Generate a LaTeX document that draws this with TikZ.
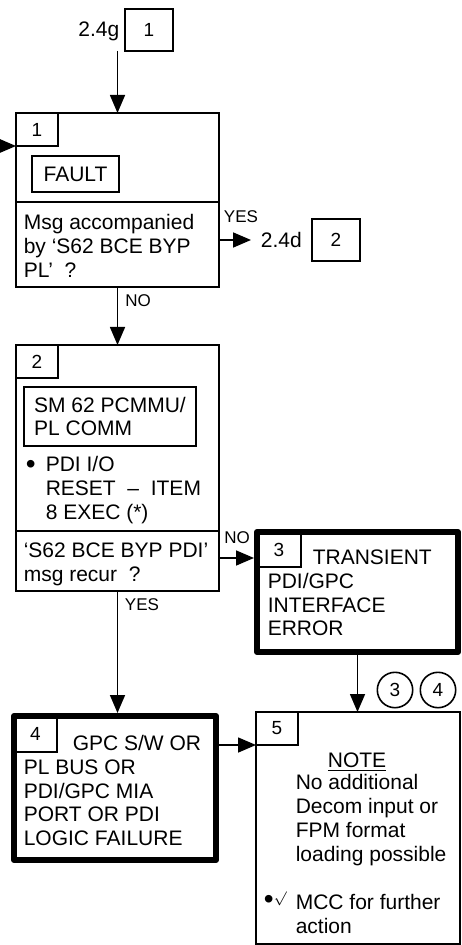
\documentclass[tikz,border=0pt]{standalone}
\usepackage{fontspec}
\setmainfont{Liberation Sans}
\usetikzlibrary{arrows.meta}

\begin{document}
\begin{tikzpicture}[x=0.5pt,y=-0.5pt,line width=0.8pt]
        \tikzstyle{every node}=[font=\fontsize{10.5}{11.9}\selectfont]
        \tikzstyle{box}=[draw,rectangle,inner sep=0pt,outer sep=0pt]
        \tikzstyle{heavybox}=[box,line width=3pt,line join=round]
        \tikzstyle{numbox}=[box,font=\fontsize{9.5}{10}\selectfont]
        \tikzstyle{txt}=[inner sep=0pt,align=left,anchor=west]
        \tikzstyle{lab}=[inner sep=0pt,font=\fontsize{8.5}{9}\selectfont]
        \tikzstyle{arr}=[-{Triangle[length=9pt,width=7.5pt]}]
        \useasboundingbox (0,0) rectangle (461,945);

        \node[inner sep=0pt,anchor=east] (g24) at (120,31) {2.4g};
        \node[numbox,minimum width=24pt,minimum height=21pt] (ref1) at (149,30) {1};
        \coordinate (g1) at (117.5,51);
        \coordinate (entry) at (0,146);

        \node[box,minimum width=101.5pt,minimum height=87pt] (box1) at (117.5,200) {};
        \node[numbox,anchor=north west,minimum width=21pt,minimum height=16.5pt] (lbl1) at (box1.north west) {1};
        \node[box,minimum width=43.5pt,minimum height=18pt] (fault) at (75.5,174) {FAULT};
        \coordinate (d1) at (0,202);
        \draw (d1 -| box1.west) -- (d1 -| box1.east);
        \node[txt] (q1) at (23,246) {Msg accompanied\\by ‘S62 BCE BYP\\PL’~~?};

        \node[inner xsep=4.5pt,inner ysep=0pt,anchor=east] (d24) at (311.5,240) {2.4d};
        \node[numbox,minimum width=24pt,minimum height=21pt] (ref2) at (336,240) {2};

        \node[box,minimum width=101.5pt,minimum height=123pt] (box2) at (117.5,468) {};
        \node[numbox,anchor=north west,minimum width=21pt,minimum height=16.5pt] (lbl2) at (box2.north west) {2};
        \node[box,minimum width=86pt,minimum height=29.5pt,align=left] (sm) at (110,416.5) {SM 62 PCMMU/\\PL COMM};
        \node[txt,font=\fontsize{14}{14}\selectfont] (bul) at (25,467) {\textbullet};
        \node[txt] (act2) at (45,490) {PDI I/O\\RESET~~–~~ITEM\\8 EXEC (*)};
        \coordinate (d2) at (0,531);
        \draw (d2 -| box2.west) -- (d2 -| box2.east);
        \node[txt] (q2) at (23,564) {‘S62 BCE BYP PDI’\\msg recur~~?};

        \node[heavybox,minimum width=100.5pt,minimum height=60pt] (box3) at (357.5,592) {};
        \node[numbox,anchor=north west,minimum width=22pt,minimum height=17.5pt] (lbl3) at (box3.north west) {3};
        \node[txt] (t3) at (267,593) {\hspace*{22.5pt}TRANSIENT\\PDI/GPC\\INTERFACE\\ERROR};

        \node[heavybox,minimum width=101pt,minimum height=72pt] (box4) at (115,788) {};
        \node[numbox,anchor=north west,minimum width=21.5pt,minimum height=18pt] (lbl4) at (box4.north west) {4};
        \node[txt] (t4) at (23,790.5) {\hspace*{24.5pt}GPC S/W OR\\PL BUS OR\\PDI/GPC MIA\\PORT OR PDI\\LOGIC FAILURE};

        \node[box,minimum width=102pt,minimum height=116pt] (box5) at (358,828) {};
        \node[numbox,anchor=north west,minimum width=21pt,minimum height=16.5pt] (lbl5) at (box5.north west) {5};
        \node[inner sep=0pt] (note) at (357,762) {\underline{NOTE}};
        \node[txt] (t5) at (295,820) {No additional\\Decom input or\\FPM format\\loading possible};
        \node[txt] (chk) at (263,900) {{\fontsize{14}{14}\selectfont\textbullet}\raisebox{3pt}{\fontsize{7.5}{8}\selectfont$\surd$}};
        \node[txt] (t5b) at (295,914) {MCC for further\\action};

        \node[numbox,circle,minimum size=17.7pt] (c3) at (395,690) {3};
        \node[numbox,circle,minimum size=17.7pt] (c4) at (438,690) {4};

        \draw[arr] (g1) -- (box1.north);
        \draw[arr] (entry) -- (lbl1.south west);
        \draw[arr] (box1.east |- d24.west) -- (d24.west);
        \draw[arr] (box1.south) -- (box2.north);
        \draw[arr,shorten >=1.5pt] ([yshift=-4.25pt]lbl3.west -| box2.east) -- ([yshift=-4.25pt]lbl3.west);
        \draw[arr,shorten >=1.5pt] (box2.south) -- (box2.south |- box4.north);
        \draw[arr] (box3.south) -- (box3.south |- box5.north);
        \draw[arr] (box4.east |- lbl5.south west) -- (lbl5.south west);

        \node[lab] at (241,217) {YES};
        \node[lab] at (138,301) {NO};
        \node[lab] at (237,538) {NO};
        \node[lab] at (142,605) {YES};
\end{tikzpicture}
\end{document}
